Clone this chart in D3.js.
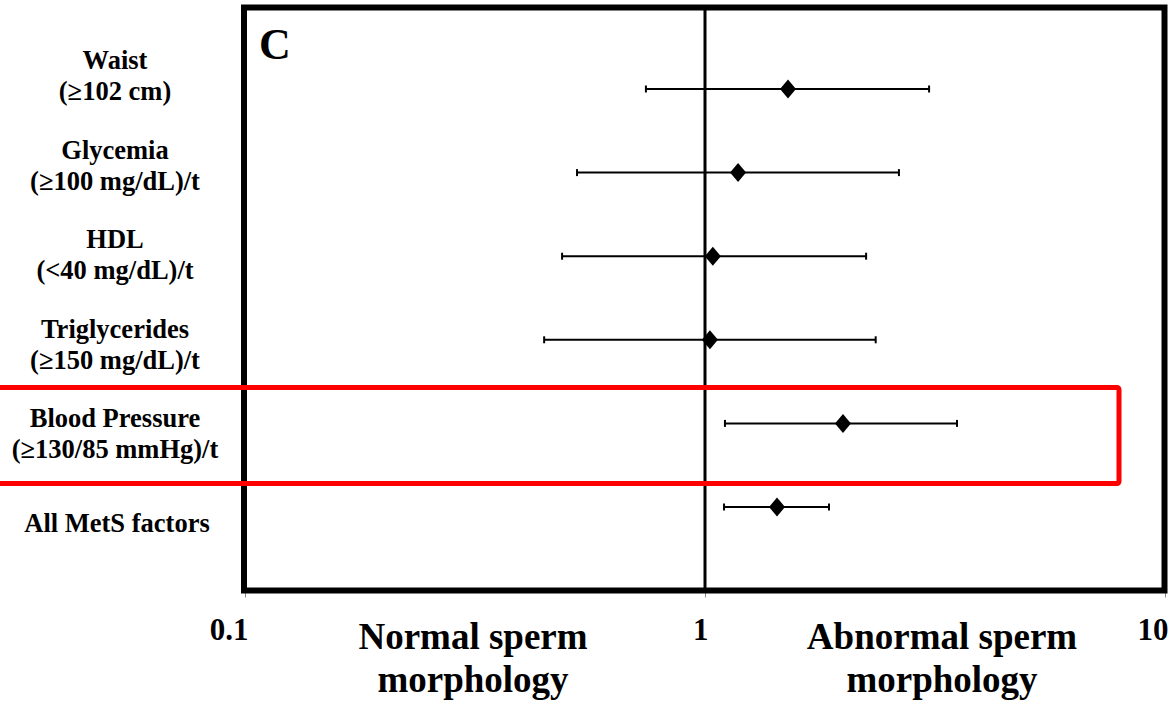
<!DOCTYPE html>
<html>
<head>
<meta charset="utf-8">
<script src="https://cdn.jsdelivr.net/npm/d3@7"></script>
<style>
  html, body { margin: 0; padding: 0; background: #fff; }
  svg { display: block; }
  text { font-family: "Liberation Serif", "Times New Roman", serif; font-weight: bold; fill: #000; }
</style>
</head>
<body>
<svg id="chart" width="1168" height="706"></svg>
<script>
// ---- data ----
const categories = ["Waist", "Glycemia", "HDL", "Triglycerides", "Blood Pressure", "All MetS factors"];
const labelLine1 = ["Waist", "Glycemia", "HDL", "Triglycerides", "Blood Pressure", "All MetS factors"];
const labelLine2 = ["(\u2265102 cm)", "(\u2265100 mg/dL)/t", "(<40 mg/dL)/t", "(\u2265150 mg/dL)/t", "(\u2265130/85 mmHg)/t", ""];
const estimate = [1.515, 1.18, 1.04, 1.025, 1.995, 1.434];
const lowerCI  = [0.744, 0.527, 0.489, 0.447, 1.105, 1.10];
const upperCI  = [3.07, 2.64, 2.24, 2.35, 3.53, 1.86];
const tickValues = [0.1, 1, 10];
const tickLabels = ["0.1", "1", "10"];
const highlighted = "Blood Pressure";
const panelLetter = "C";
const leftTitle = ["Normal sperm", "morphology"];
const rightTitle = ["Abnormal sperm", "morphology"];

// ---- layout ----
const svg = d3.select("#chart");
const frame = { left: 244, top: 7.5, right: 1164.5, bottom: 590.5 };

const x = d3.scaleLog().domain([0.1, 10]).range([245, 1165]);
const y = d3.scalePoint().domain(categories).range([89, 507]);
const yLabel = d3.scalePoint().domain(categories).range([76.5, 524]);

// reference line at 1
svg.append("line")
  .attr("x1", x(1)).attr("x2", x(1))
  .attr("y1", frame.top).attr("y2", frame.bottom)
  .attr("stroke", "#000").attr("stroke-width", 3);

// x axis ticks
const axis = d3.axisBottom(x).tickValues(tickValues)
  .tickFormat((d, i) => tickLabels[i]).tickSize(7).tickPadding(0);
const gAxis = svg.append("g").attr("transform", `translate(0,${frame.bottom})`).call(axis);
gAxis.select(".domain").remove();
gAxis.selectAll(".tick line").attr("stroke", "#888").attr("stroke-width", 1);
gAxis.selectAll(".tick text")
  .attr("font-size", 31)
  .attr("text-anchor", "end")
  .attr("dy", null)
  .attr("x", 3)
  .attr("y", 49)
  .style("font-size", "31px");

// data rows
const rows = categories.map((c, i) => ({ c, est: estimate[i], lo: lowerCI[i], hi: upperCI[i] }));
const g = svg.append("g");
g.selectAll("line.ci").data(rows).join("line")
  .attr("class", "ci")
  .attr("x1", d => x(d.lo)).attr("x2", d => x(d.hi))
  .attr("y1", d => y(d.c)).attr("y2", d => y(d.c))
  .attr("stroke", "#000").attr("stroke-width", 2);
g.selectAll("line.capl").data(rows).join("line")
  .attr("x1", d => x(d.lo)).attr("x2", d => x(d.lo))
  .attr("y1", d => y(d.c) - 3.5).attr("y2", d => y(d.c) + 3.5)
  .attr("stroke", "#000").attr("stroke-width", 2);
g.selectAll("line.caph").data(rows).join("line")
  .attr("x1", d => x(d.hi)).attr("x2", d => x(d.hi))
  .attr("y1", d => y(d.c) - 3.5).attr("y2", d => y(d.c) + 3.5)
  .attr("stroke", "#000").attr("stroke-width", 2);
g.selectAll("path.pt").data(rows).join("path")
  .attr("d", "M0,-9.5L8,0L0,9.5L-8,0Z")
  .attr("transform", d => `translate(${x(d.est)},${y(d.c)})`)
  .attr("fill", "#000");

// frame
svg.append("rect")
  .attr("x", frame.left).attr("y", frame.top)
  .attr("width", frame.right - frame.left).attr("height", frame.bottom - frame.top)
  .attr("fill", "none").attr("stroke", "#000").attr("stroke-width", 6);

// panel letter
svg.append("text").attr("x", 259).attr("y", 59).attr("font-size", 44).text(panelLetter);

// category labels
const lab = svg.append("g");
categories.forEach((c, i) => {
  const cy = yLabel(c);
  const two = labelLine2[i] !== "";
  const t = lab.append("text").attr("text-anchor", "middle").attr("font-size", 26.5);
  if (two) {
    t.append("tspan").attr("x", 115).attr("y", cy - 7.5).text(labelLine1[i]);
    t.append("tspan").attr("x", 115).attr("y", cy + 23.5).text(labelLine2[i]);
  } else {
    t.append("tspan").attr("x", 117).attr("y", cy + 8).text(labelLine1[i]);
  }
});

// titles under the axis
const titleG = svg.append("g");
[[leftTitle, 473], [rightTitle, 942]].forEach(([lines, cx]) => {
  const t = titleG.append("text").attr("text-anchor", "middle").attr("font-size", 37);
  t.append("tspan").attr("x", cx).attr("y", 649).text(lines[0]);
  t.append("tspan").attr("x", cx).attr("y", 692).text(lines[1]);
});

// highlight box
const hi = y(highlighted);
const step = y.step();
svg.append("rect")
  .attr("x", -10).attr("y", hi - step * 0.43)
  .attr("width", 1129).attr("height", step * 1.15)
  .attr("rx", 2)
  .attr("fill", "none").attr("stroke", "#ff0000").attr("stroke-width", 5);
</script>
</body>
</html>
